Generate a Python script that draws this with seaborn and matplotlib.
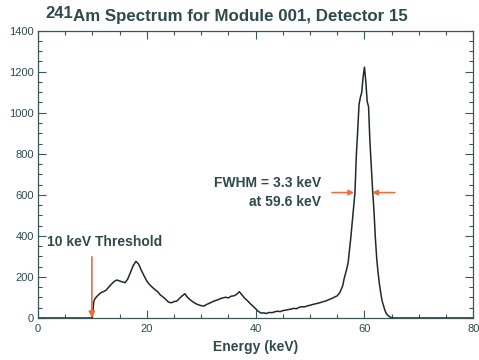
import numpy as np
import pandas as pd
import matplotlib
matplotlib.use("Agg")
import matplotlib.pyplot as plt
import seaborn as sns
from matplotlib.ticker import MultipleLocator

# ---- data ----
energy_low = [0.0, 5.0, 9.9, 10.0, 10.25]
counts_low = [0, 0, 0, 5, 80]

energy_mid = [10.5, 11.0, 11.5, 12.0, 12.5, 13.0, 13.5, 14.0, 14.5, 15.0,
              15.5, 16.0, 16.5, 17.0, 17.5, 18.0, 18.5, 19.0, 19.5, 20.0,
              20.5, 21.0, 21.5, 22.0, 22.5, 23.0, 23.5, 24.0, 24.5, 25.0,
              25.5, 26.0, 26.5, 27.0, 27.5, 28.0, 28.5, 29.0, 29.5, 30.0,
              30.5, 31.0, 31.5, 32.0, 32.5, 33.0, 33.5, 34.0, 34.5, 35.0,
              35.5, 36.0, 36.5, 37.0, 37.5, 38.0, 38.5, 39.0, 39.5, 40.0,
              40.5, 41.0, 41.5, 42.0, 42.5, 43.0, 43.5, 44.0, 44.5, 45.0,
              45.5, 46.0, 46.5, 47.0, 47.5, 48.0, 48.5, 49.0, 49.5, 50.0,
              50.5, 51.0, 51.5, 52.0, 52.5, 53.0, 53.5, 54.0, 54.5, 55.0,
              55.5, 56.0]
counts_mid = [95, 110, 122, 128, 135, 150, 165, 178, 185, 180,
              176, 172, 190, 222, 255, 276, 262, 232, 205, 180,
              163, 150, 138, 128, 112, 102, 90, 77, 74, 80,
              82, 95, 108, 118, 100, 88, 78, 70, 64, 60,
              58, 66, 72, 78, 84, 88, 94, 98, 101, 98,
              106, 108, 115, 128, 112, 96, 84, 70, 58, 45,
              32, 24, 25, 22, 27, 26, 30, 33, 31, 36,
              38, 41, 43, 47, 45, 52, 55, 54, 59, 62,
              66, 69, 72, 76, 80, 84, 90, 95, 102, 108,
              125, 157]

energy_peak = [56.25, 56.5, 56.75, 57.0, 57.25, 57.5, 57.75, 58.0, 58.25, 58.5,
               58.75, 59.0, 59.25, 59.5, 59.75, 60.0, 60.25, 60.5, 60.75, 61.0,
               61.25, 61.5, 61.75, 62.0, 62.25, 62.5, 62.75, 63.0, 63.25, 63.5,
               63.75, 64.0, 64.25, 64.5, 64.75, 65.0, 65.5, 70.0, 80.0]
counts_peak = [190, 215, 240, 270, 330, 394, 465, 541, 610, 790,
               910, 1040, 1075, 1100, 1175, 1222, 1150, 1054, 1030, 860,
               740, 620, 520, 390, 290, 220, 165, 120, 82, 60,
               38, 22, 14, 8, 4, 1, 0, 0, 0]

x_ticks = [0, 20, 40, 60, 80]
y_ticks = [0, 200, 400, 600, 800, 1000, 1200, 1400]

df = pd.DataFrame({
    "energy": energy_low + energy_mid + energy_peak,
    "counts": counts_low + counts_mid + counts_peak,
})

# ---- style ----
sns.set_theme(style="ticks")
plt.rcParams["font.family"] = ["Liberation Sans", "DejaVu Sans"]
text_c = "#2e4a4a"
axis_c = "#3a5656"
arrow_c = "#f26a3c"

fig = plt.figure(figsize=(4.79, 3.60), dpi=100)
ax = fig.add_axes([0.0793, 0.1167, 0.9088, 0.7983])

sns.lineplot(data=df, x="energy", y="counts", ax=ax, color="#1e2a2a",
             linewidth=1.1, estimator=None, sort=False)

ax.set_xlim(0, 80)
ax.set_ylim(0, 1400)
ax.set_xticks(x_ticks)
ax.set_yticks(y_ticks)
ax.xaxis.set_minor_locator(MultipleLocator(5))
ax.yaxis.set_minor_locator(MultipleLocator(50))
ax.tick_params(which="both", direction="in", top=True, right=True,
               colors=axis_c, labelcolor=text_c, width=0.8)
ax.tick_params(which="major", length=6, labelsize=8, pad=4)
ax.tick_params(axis="y", which="major", pad=3)
ax.tick_params(which="minor", length=3)
for s in ax.spines.values():
    s.set_color(axis_c)
    s.set_linewidth(0.9)

ax.set_xlabel("Energy (keV)", fontsize=10, fontweight="bold", color=text_c,
              labelpad=5)
ax.set_ylabel("")

# title
fig.text(0.152, 0.962, "241", fontsize=12, fontweight="bold", color=text_c,
         ha="right", va="center")
fig.text(0.153, 0.953, "Am Spectrum for Module 001, Detector 15", fontsize=12.2,
         fontweight="bold", color=text_c, ha="left", va="center")

# annotations
ax.text(1.7, 372, "10 keV Threshold", fontsize=10, fontweight="bold",
        color=text_c, ha="left", va="center")
ax.annotate("", xy=(9.9, 0), xytext=(9.9, 298),
            arrowprops=dict(arrowstyle="-|>", color=arrow_c, lw=1.2,
                            mutation_scale=9, shrinkA=0, shrinkB=0))

ax.text(52.0, 657, "FWHM = 3.3 keV", fontsize=10, fontweight="bold",
        color=text_c, ha="right", va="center")
ax.text(52.0, 567, "at 59.6 keV", fontsize=10, fontweight="bold",
        color=text_c, ha="right", va="center")
ax.annotate("", xy=(58.1, 611), xytext=(54.0, 611),
            arrowprops=dict(arrowstyle="-|>", color=arrow_c, lw=1.1,
                            mutation_scale=8, shrinkA=0, shrinkB=0))
ax.annotate("", xy=(61.4, 611), xytext=(65.6, 611),
            arrowprops=dict(arrowstyle="-|>", color=arrow_c, lw=1.1,
                            mutation_scale=8, shrinkA=0, shrinkB=0))

fig.savefig("out.png", dpi=100)
